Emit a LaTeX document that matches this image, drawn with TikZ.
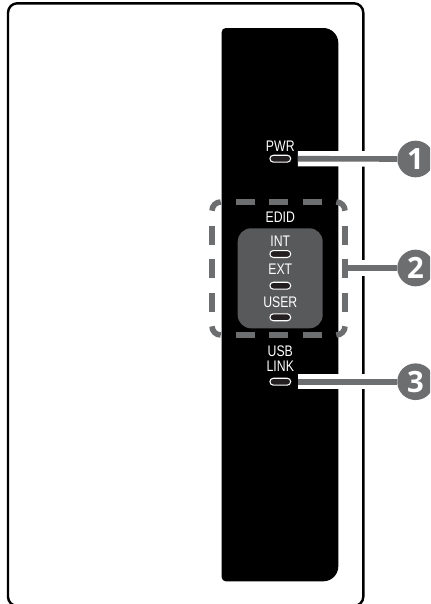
\documentclass[tikz,border=0pt]{standalone}
\usepackage{fontspec}
\usepackage{xcolor}
\usetikzlibrary{shapes}
\newfontfamily\fontVoyant[FakeStretch=0.8]{Liberation Sans}
\newfontfamily\fontNumero{Open Sans}
\definecolor{grisTrait}{HTML}{6D6E70}
\definecolor{grisBoite}{HTML}{58595B}
\definecolor{noirVoyant}{HTML}{231F20}
\newcommand*{\rayonPastille}{27.5pt}
\newcommand*{\largeurHalo}{11.5pt}
\newcommand*{\largeurTrait}{4.2pt}
\tikzset{
	voyant/.style ={rounded rectangle,draw=white,fill=noirVoyant,line width=0.8pt,inner sep=0pt,minimum width=15.6pt,minimum height=5.2pt},
	etiquette/.style ={text=white,anchor=base,inner sep=0pt,font=\fontVoyant\fontsize{11.5}{11.5}\selectfont},
	pastille/.style ={circle,fill=grisTrait,text=white,inner sep=0pt,minimum size=\rayonPastille,font=\fontNumero\bfseries\fontsize{22}{22}\selectfont},
	halo/.style ={white,line width=\largeurHalo},
	renvoi/.style ={grisTrait,line width=\largeurTrait},
	pointille/.style ={grisTrait,line width=4.2pt}
}
\begin{document}
\begin{tikzpicture}[x=0.75pt,y=-0.75pt]
	\clip (0,0) rectangle (430,604);
	\useasboundingbox (0,0) rectangle (430,604);
	% boitier et face avant
	\draw[line width=1.8pt,rounded corners=7] (8,3.3) rectangle (363.3,606);
	\fill[black] (221.7,32) arc[start angle=180,end angle=270,radius=4] -- (323.3,28)
		arc[start angle=270,end angle=360,radius=15] -- (338.3,566.3)
		arc[start angle=0,end angle=90,radius=15] -- (225.7,581.3)
		arc[start angle=90,end angle=180,radius=4] -- cycle;
	\fill[grisBoite,rounded corners=10] (237.7,228.3) rectangle (322.7,328.3);

	\node[voyant] (pwr) at (280.3,158.7) {};
	\node[voyant] (int) at (280.3,254) {};
	\node[voyant] (ext) at (280.3,285.7) {};
	\node[voyant] (user) at (280.3,317.3) {};
	\node[voyant] (link) at (280.3,381.7) {};

	\node[etiquette] (txtPwr) at (280.3,151.5) {PWR};
	\node[etiquette] (txtEdid) at (280.3,222.5) {EDID};
	\node[etiquette] (txtInt) at (280.3,246.5) {INT};
	\node[etiquette] (txtExt) at (280.3,274.5) {EXT};
	\node[etiquette] (txtUser) at (280.3,307) {USER};
	\node[etiquette] (txtUsb) at (280.3,356) {USB};
	\node[etiquette] (txtLink) at (280.3,371) {LINK};

	% cadre en tirets
	\foreach \x in {245.5,278.5,312.5}{
		\draw[pointille] (\x-9.5,202) --++(19,0);
		\draw[pointille] (\x-9.5,335) --++(19,0);
	}
	\foreach \y in {235.5,268,302.5}{
		\draw[pointille] (212,\y-9.5) --++(0,19);
		\draw[pointille] (345,\y-9.5) --++(0,19);
	}
	\draw[pointille] (212,210.7) arc[start angle=180,end angle=270,radius=8.7];
	\draw[pointille] (336.3,202) arc[start angle=270,end angle=360,radius=8.7];
	\draw[pointille] (212,326.3) arc[start angle=180,end angle=90,radius=8.7];
	\draw[pointille] (336.3,335) arc[start angle=90,end angle=0,radius=8.7];
	\coordinate (cadre) at (345,268);

	\node[pastille] (un) at (415.6,159) {1};
	\node[pastille] (deux) at (415.6,268) {2};
	\node[pastille] (trois) at (415.6,381.7) {3};

	% renvois vers les pastilles
	\draw[halo] (pwr.east) ++(6.6,0) -- (un.west);
	\draw[halo] (link.east) ++(6.6,0) -- (trois.west);
	\draw[halo] (cadre) ++(3,0) -- (deux.west);
	\draw[renvoi] (pwr.east) ++(6.6,0) -- (un.west);
	\draw[renvoi] (link.east) ++(6.6,0) -- (trois.west);
	\draw[renvoi] (cadre) ++(2,0) -- (deux.west);
\end{tikzpicture}
\end{document}
